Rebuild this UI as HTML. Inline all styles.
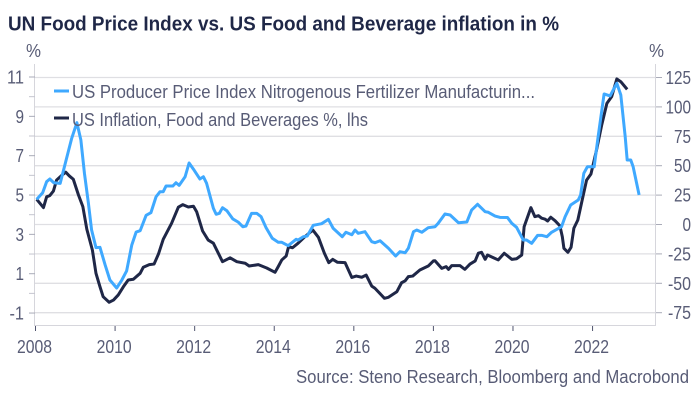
<!DOCTYPE html>
<html lang="en">
<head>
<meta charset="utf-8">
<title>UN Food Price Index vs. US Food and Beverage inflation</title>
<style>
html,body{margin:0;padding:0;background:#fff;width:700px;height:400px;overflow:hidden}
svg{display:block}
text{font-family:"Liberation Sans",sans-serif}
.lbl{font-size:18px;fill:#585c76}
</style>
</head>
<body>
<svg id="chart" width="700" height="400" viewBox="0 0 700 400" xmlns="http://www.w3.org/2000/svg">
  <rect width="700" height="400" fill="#fff"/>
  <text x="8" y="30.5" font-size="20" font-weight="700" fill="#1f2747" textLength="551" lengthAdjust="spacingAndGlyphs">UN Food Price Index vs. US Food and Beverage inflation in %</text>
  <text class="lbl" x="26" y="57" textLength="15" lengthAdjust="spacingAndGlyphs">%</text>
  <text class="lbl" x="649" y="57" textLength="15" lengthAdjust="spacingAndGlyphs">%</text>
  <g id="grid"></g>
  <g id="axes"></g>
  <g id="series"></g>
  <g>
    <line x1="54" x2="69" y1="91" y2="91" stroke="#3fa9ff" stroke-width="3"/>
    <text class="lbl" x="72" y="98" textLength="463" lengthAdjust="spacingAndGlyphs">US Producer Price Index Nitrogenous Fertilizer Manufacturin...</text>
    <line x1="54" x2="69" y1="118" y2="118" stroke="#1f2747" stroke-width="3"/>
    <text class="lbl" x="72" y="126" textLength="296" lengthAdjust="spacingAndGlyphs">US Inflation, Food and Beverages %, lhs</text>
  </g>
  <text class="lbl" x="296" y="383" textLength="393" lengthAdjust="spacingAndGlyphs">Source: Steno Research, Bloomberg and Macrobond</text>
</svg>
<script>
var xTickYears = [2008, 2010, 2012, 2014, 2016, 2018, 2020, 2022];
var leftTickValues = [11, 9, 7, 5, 3, 1, -1];
var leftMinorValues = [10, 8, 6, 4, 2, 0];
var rightTickValues = [125, 100, 75, 50, 25, 0, -25, -50, -75];

var inflationDates = [2008.03,2008.20,2008.28,2008.36,2008.45,2008.53,2008.66,2008.76,2008.85,2008.95,2009.08,2009.19,2009.29,2009.43,2009.52,2009.62,2009.70,2009.85,2009.96,2010.08,2010.21,2010.33,2010.46,2010.63,2010.71,2010.86,2010.98,2011.09,2011.21,2011.42,2011.59,2011.70,2011.84,2011.97,2012.05,2012.20,2012.34,2012.47,2012.70,2012.89,2013.06,2013.27,2013.37,2013.60,2013.81,2014.02,2014.10,2014.19,2014.30,2014.36,2014.46,2014.60,2014.77,2014.97,2015.11,2015.26,2015.37,2015.47,2015.59,2015.78,2015.95,2016.06,2016.20,2016.31,2016.45,2016.53,2016.77,2016.87,2017.08,2017.20,2017.29,2017.37,2017.48,2017.66,2017.87,2018.00,2018.04,2018.21,2018.32,2018.38,2018.46,2018.67,2018.79,2018.92,2019.05,2019.13,2019.21,2019.30,2019.36,2019.51,2019.63,2019.78,2019.97,2020.09,2020.22,2020.28,2020.45,2020.55,2020.64,2020.72,2020.80,2020.87,2020.95,2021.06,2021.18,2021.24,2021.28,2021.38,2021.46,2021.53,2021.63,2021.73,2021.85,2021.96,2022.10,2022.23,2022.36,2022.48,2022.61,2022.71,2022.87];
var inflationValues = [4.78,4.36,4.91,4.97,5.20,5.76,6.00,6.16,5.97,5.80,5.00,4.41,3.26,2.20,1.02,0.34,-0.17,-0.45,-0.34,-0.08,0.34,0.68,0.72,1.02,1.33,1.46,1.49,2.00,2.75,3.56,4.38,4.51,4.39,4.43,4.15,3.17,2.71,2.55,1.61,1.81,1.61,1.53,1.39,1.46,1.29,1.07,1.36,1.70,1.90,2.37,2.32,2.55,2.88,3.22,2.85,2.04,1.56,1.73,1.58,1.56,0.81,0.88,0.82,0.93,0.37,0.26,-0.25,-0.20,0.08,0.54,0.64,0.85,0.88,1.19,1.39,1.65,1.66,1.27,1.36,1.22,1.41,1.41,1.22,1.49,1.65,2.04,2.09,1.73,1.95,1.81,1.70,2.04,1.73,1.76,1.95,3.39,4.36,3.90,3.95,3.82,3.78,3.68,3.87,3.69,3.43,2.88,2.29,2.09,2.34,3.31,3.73,4.66,5.76,6.07,7.29,8.56,9.66,10.00,10.90,10.76,10.37];

var fertilizerDates = [2008.03,2008.18,2008.28,2008.36,2008.46,2008.62,2008.77,2008.91,2009.04,2009.14,2009.23,2009.33,2009.41,2009.52,2009.62,2009.75,2009.87,2010.04,2010.17,2010.29,2010.42,2010.53,2010.63,2010.78,2010.90,2011.03,2011.13,2011.21,2011.28,2011.45,2011.53,2011.61,2011.76,2011.86,2011.97,2012.13,2012.22,2012.30,2012.47,2012.54,2012.62,2012.70,2012.81,2012.96,2013.10,2013.21,2013.29,2013.43,2013.56,2013.67,2013.79,2013.95,2014.10,2014.19,2014.35,2014.55,2014.60,2014.73,2014.83,2014.98,2015.19,2015.36,2015.48,2015.71,2015.80,2015.95,2016.03,2016.11,2016.28,2016.45,2016.53,2016.66,2016.87,2017.05,2017.16,2017.29,2017.37,2017.50,2017.58,2017.71,2017.87,2018.04,2018.12,2018.29,2018.42,2018.63,2018.84,2018.96,2019.11,2019.30,2019.38,2019.55,2019.67,2019.86,2019.97,2020.09,2020.26,2020.34,2020.47,2020.62,2020.72,2020.85,2020.97,2021.22,2021.31,2021.45,2021.64,2021.70,2021.78,2021.87,2022.04,2022.14,2022.29,2022.44,2022.61,2022.71,2022.82,2022.87,2022.96,2023.02,2023.17];
var fertilizerValues = [21.4,27.0,36.4,38.7,35.5,35.0,54.8,73.3,86.6,71.9,43.5,18.0,-4.7,-19.7,-19.4,-34.4,-47.2,-54.0,-47.2,-39.5,-17.4,-6.4,-5.3,7.8,10.0,23.6,27.9,27.9,32.7,32.7,35.5,33.3,40.6,52.3,47.0,38.7,40.6,35.0,13.8,8.7,9.5,14.3,11.7,4.7,1.9,-1.9,-1.3,9.5,9.5,6.6,-2.4,-11.7,-15.1,-15.1,-18.0,-12.6,-13.2,-10.4,-9.8,-0.7,0.7,4.4,-3.2,-10.4,-6.6,-8.7,-4.7,-7.5,-6.1,-14.6,-15.5,-13.8,-20.2,-26.8,-23.1,-24.0,-20.2,-6.1,-4.7,-6.6,-2.7,-1.9,1.0,8.9,8.1,1.5,2.1,12.3,17.2,10.9,10.4,7.2,6.1,6.0,1.0,-2.4,-13.2,-13.2,-16.0,-9.2,-9.2,-10.4,-6.6,-1.9,6.6,16.6,20.8,25.1,43.5,49.1,49.1,74.7,111.0,109.3,120.1,110.1,74.7,54.8,54.8,49.1,25.1];

var NS = 'http://www.w3.org/2000/svg';
function xScale(year) { return 35.5 + (year - 2008) * 39.79; }
function yLeft(v) { return 77 + (11 - v) * 19.67; }
function yRight(v) { return 77.5 + (125 - v) * 1.176; }
function labelWidth(s, digitW) {
  var w = 0;
  for (var i = 0; i < s.length; i++) { w += s[i] === '-' ? 6 : digitW; }
  return w;
}
function make(tag, attrs, parent, text) {
  var el = document.createElementNS(NS, tag);
  for (var k in attrs) { el.setAttribute(k, attrs[k]); }
  if (text !== undefined) { el.textContent = text; }
  parent.appendChild(el);
  return el;
}
var gridG = document.getElementById('grid');
var axesG = document.getElementById('axes');
var seriesG = document.getElementById('series');
var AXIS = '#d6d6dc';
var TICK = '#a9abb8';

rightTickValues.forEach(function (v) {
  var y = yRight(v);
  var s = String(v);
  var g = make('line', {x1: 35, x2: 655, y1: y, y2: y, stroke: '#dfdfe3', 'stroke-width': 1.3}, gridG);
  
  
  var t = make('line', {x1: 655, x2: 662, y1: y, y2: y, stroke: TICK, 'stroke-width': 1}, axesG);
  
  
  var w = labelWidth(s, 8.5);
  var l = make('text', {x: 691 - w, y: y + 6.5, 'class': 'lbl', textLength: w, lengthAdjust: 'spacingAndGlyphs'}, axesG, s);
  
  
});

var axisLeft = make('line', {x1: 34.5, x2: 34.5, y1: 64, y2: 326, stroke: AXIS, 'stroke-width': 1}, axesG);


var axisRight = make('line', {x1: 655.5, x2: 655.5, y1: 64, y2: 326, stroke: AXIS, 'stroke-width': 1}, axesG);


var axisBottom = make('line', {x1: 34.5, x2: 655.5, y1: 325.5, y2: 325.5, stroke: AXIS, 'stroke-width': 1}, axesG);



leftTickValues.forEach(function (v) {
  var y = yLeft(v);
  var s = String(v);
  var t = make('line', {x1: 29, x2: 35, y1: y, y2: y, stroke: TICK, 'stroke-width': 1}, axesG);
  
  
  var w = labelWidth(s, 8.5);
  var l = make('text', {x: 24 - w, y: y + 6.5, 'class': 'lbl', textLength: w, lengthAdjust: 'spacingAndGlyphs'}, axesG, s);
  
  
});
leftMinorValues.forEach(function (v) {
  var y = yLeft(v);
  var t = make('line', {x1: 29, x2: 35, y1: y, y2: y, stroke: '#c4c5cf', 'stroke-width': 1}, axesG);
  
  
});
xTickYears.forEach(function (yr) {
  var x = xScale(yr);
  var t = make('line', {x1: x, x2: x, y1: 326, y2: 331, stroke: '#50546e', 'stroke-width': 1}, axesG);
  
  
  var l = make('text', {x: x - 18.5, y: 353, 'class': 'lbl', textLength: 35, lengthAdjust: 'spacingAndGlyphs'}, axesG, String(yr));
  
  
});

function linePath(dates, values, yFn) {
  return dates.map(function (d, i) {
    return (i ? 'L' : 'M') + xScale(d).toFixed(2) + ' ' + yFn(values[i]).toFixed(2);
  }).join(' ');
}
var inflationLine = make('path', {d: linePath(inflationDates, inflationValues, yLeft), fill: 'none', stroke: '#1f2747', 'stroke-width': 3, 'stroke-linejoin': 'round', 'stroke-linecap': 'butt'}, seriesG);


var fertilizerLine = make('path', {d: linePath(fertilizerDates, fertilizerValues, yRight), fill: 'none', stroke: '#3fa9ff', 'stroke-width': 3, 'stroke-linejoin': 'round', 'stroke-linecap': 'butt'}, seriesG);


</script>
</body>
</html>
